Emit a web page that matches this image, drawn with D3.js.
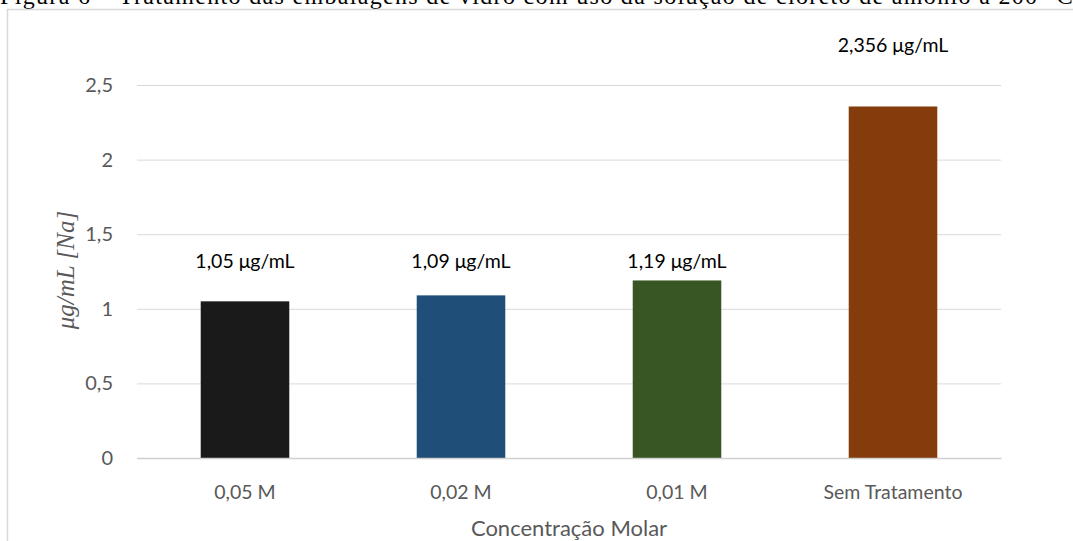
<!DOCTYPE html>
<html>
<head>
<meta charset="utf-8">
<script src="https://cdn.jsdelivr.net/npm/d3@7"></script>
<style>
  body { margin: 0; background: #fff; }
  svg { display: block; }
</style>
</head>
<body>
<div id="chart"></div>
<script>
// data
var categories = ["0,05 M", "0,02 M", "0,01 M", "Sem Tratamento"];
var values = [1.05, 1.09, 1.19, 2.356];
var valueLabels = ["1,05 μg/mL", "1,09 μg/mL", "1,19 μg/mL", "2,356 μg/mL"];
var barColors = ["#1a1a1a", "#1f4e79", "#375623", "#843c0c"];
var yTicks = [0, 0.5, 1, 1.5, 2, 2.5];
// where each value label sits (in axis units), as placed in the original
var labelAt = [1.32, 1.32, 1.32, 2.77];

var width = 1073, height = 541;
var margin = {top: 85, right: 72, bottom: 83, left: 137};
var font = "Lato, 'Open Sans', sans-serif";

var svg = d3.select("#chart")
  .append("svg")
    .attr("width", width)
    .attr("height", height);

// caption of the figure, cut off at the top edge
svg.append("text")
    .attr("x", 0)
    .attr("y", 4)
    .attr("font-family", "Liberation Serif, serif")
    .attr("font-size", "24px")
    .attr("textLength", 1080)
    .attr("lengthAdjust", "spacing")
    .attr("fill", "#000")
    .text("Figura 6 – Tratamento das embalagens de vidro com uso da solução de cloreto de amônio a 200 °C.");

// chart frame (runs off right and bottom)
svg.append("rect")
    .attr("x", 7.5)
    .attr("y", 9.5)
    .attr("width", 1100)
    .attr("height", 600)
    .attr("fill", "none")
    .attr("stroke", "#d9d9d9")
    .attr("stroke-width", 1.5);

var x = d3.scaleBand()
    .domain(categories)
    .range([margin.left, width - margin.right])
    .paddingInner(0.59)
    .paddingOuter(0.295);

var y = d3.scaleLinear()
    .domain([0, 2.5])
    .range([height - margin.bottom, margin.top]);

// gridlines
var yAxis = svg.append("g")
    .attr("transform", "translate(" + margin.left + ",0)")
    .call(d3.axisLeft(y)
      .tickValues(yTicks)
      .tickSize(-(width - margin.left - margin.right))
      .tickPadding(24)
      .tickFormat(function(d) { return String(d).replace(".", ","); }));
yAxis.select(".domain").remove();
yAxis.selectAll(".tick line")
    .attr("stroke", "#d9d9d9")
    .attr("stroke-width", 1);
yAxis.selectAll(".tick text")
    .attr("font-family", font)
    .attr("font-size", "20px")
    .attr("fill", "#595959");

// bars
svg.selectAll(".bar")
    .data(values)
    .enter().append("rect")
    .attr("class", "bar")
    .attr("x", function(d, i) { return x(categories[i]); })
    .attr("width", x.bandwidth())
    .attr("y", function(d) { return y(d); })
    .attr("height", function(d) { return y(0) - y(d); })
    .attr("fill", function(d, i) { return barColors[i]; });

// x axis
var xAxis = svg.append("g")
    .attr("transform", "translate(0," + y(0) + ")")
    .call(d3.axisBottom(x).tickSize(0).tickPadding(27));
xAxis.select(".domain")
    .attr("stroke", "#d0d0d0")
    .attr("stroke-width", 1.5);
xAxis.selectAll(".tick text")
    .attr("font-family", font)
    .attr("font-size", "19.5px")
    .attr("fill", "#595959");

// value labels
svg.selectAll(".vlabel")
    .data(valueLabels)
    .enter().append("text")
    .attr("class", "vlabel")
    .attr("x", function(d, i) { return x(categories[i]) + x.bandwidth() / 2; })
    .attr("y", function(d, i) { return y(labelAt[i]); })
    .attr("dy", "0.35em")
    .attr("text-anchor", "middle")
    .attr("font-family", font)
    .attr("font-size", "19.5px")
    .attr("fill", "#000")
    .text(function(d) { return d; });

// axis titles
svg.append("text")
    .attr("x", (margin.left + width - margin.right) / 2)
    .attr("y", 528)
    .attr("dy", "0.35em")
    .attr("text-anchor", "middle")
    .attr("font-family", font)
    .attr("font-size", "22px")
    .attr("fill", "#595959")
    .text("Concentração Molar");

svg.append("text")
    .attr("transform", "translate(65,270) rotate(-90)")
    .attr("dy", "0.35em")
    .attr("text-anchor", "middle")
    .attr("font-family", "Liberation Serif, serif")
    .attr("font-style", "italic")
    .attr("font-size", "25px")
    .attr("fill", "#595959")
    .text("μg/mL [Na]");
</script>
</body>
</html>
